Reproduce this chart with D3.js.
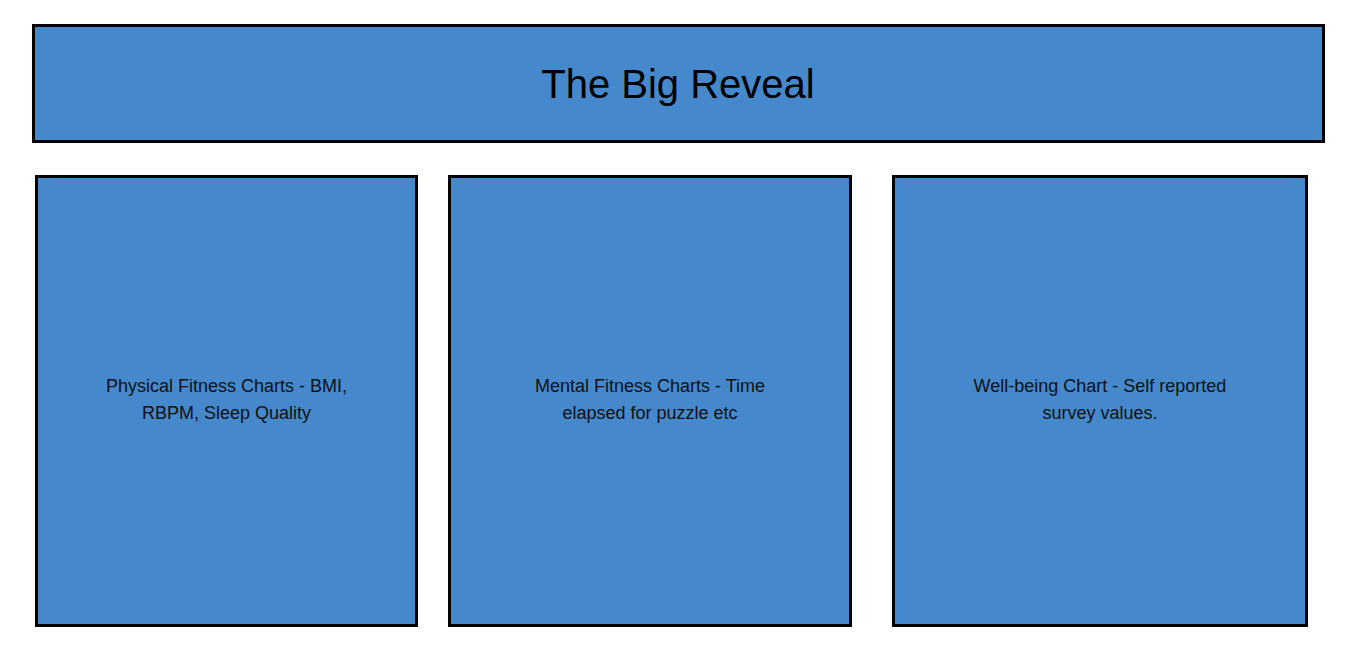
<!DOCTYPE html>
<html>
<head>
<meta charset="utf-8">
<script src="https://d3js.org/d3.v7.min.js"></script>
<style>
  body { margin: 0; background: #fff; }
</style>
</head>
<body>
<div id="chart"></div>
<script>
// panel data
var title = "The Big Reveal";
var panelNames = ["physical", "mental", "wellbeing"];
var panelLines = [
  ["Physical Fitness Charts - BMI,", "RBPM, Sleep Quality"],
  ["Mental Fitness Charts - Time", "elapsed for puzzle etc"],
  ["Well-being Chart - Self reported", "survey values."]
];

var W = 1361, H = 672;
var fill = "#4588cc";

var svg = d3.select("#chart").append("svg")
  .attr("width", W).attr("height", H);

// header
svg.append("rect")
  .attr("x", 33.5).attr("y", 25.5).attr("width", 1290).attr("height", 116)
  .attr("fill", fill).attr("stroke", "#000").attr("stroke-width", 3);
svg.append("text")
  .attr("x", 678).attr("y", 98)
  .attr("text-anchor", "middle")
  .style("font", "40px 'Liberation Sans', Arial, sans-serif")
  .text(title);

// panel positions (left edge, width)
var panelX = [36.5, 449.5, 893.5];
var panelW = [380, 401, 413];

var g = svg.selectAll(".panel")
  .data(panelNames)
  .enter().append("g").attr("class", "panel");

g.append("rect")
  .attr("x", function(d, i) { return panelX[i]; })
  .attr("y", 176.5)
  .attr("width", function(d, i) { return panelW[i]; })
  .attr("height", 449)
  .attr("fill", fill).attr("stroke", "#000").attr("stroke-width", 3);

g.append("text")
  .attr("text-anchor", "middle")
  .style("font", "18px 'Liberation Sans', Arial, sans-serif")
  .attr("fill", "#111")
  .selectAll("tspan")
  .data(function(d, i) { return panelLines[i].map(function(t) { return {t: t, i: i}; }); })
  .enter().append("tspan")
    .attr("x", function(d) { return panelX[d.i] + panelW[d.i] / 2; })
    .attr("y", function(d, j) { return 392 + j * 27; })
    .text(function(d) { return d.t; });
</script>
</body>
</html>
